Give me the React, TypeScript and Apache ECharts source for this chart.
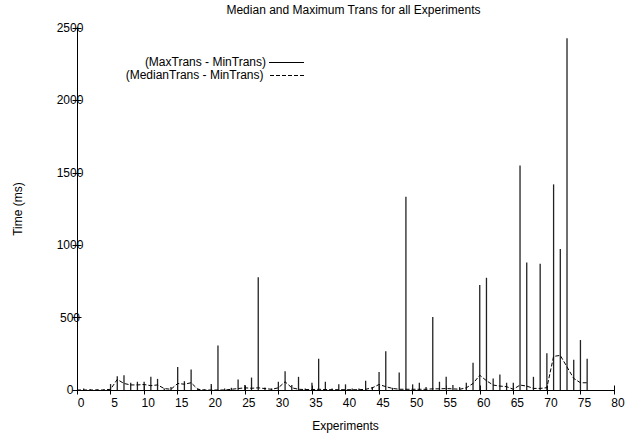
import React, { useEffect, useRef } from "react";
import * as echarts from "echarts";

// Experiment index 0..76 (position in arrays = experiment number)
const maxTrans: number[] = [
  0, 10, 5, 5, 5, 41, 95, 102, 50, 57,
  57, 91, 77, 10, 20, 159, 61, 141, 10, 5,
  41, 307, 10, 15, 73, 34, 86, 778, 18, 10,
  57, 130, 34, 91, 10, 50, 216, 57, 10, 39,
  39, 10, 10, 64, 20, 125, 268, 15, 120, 1335,
  39, 50, 20, 504, 57, 91, 34, 20, 50, 189,
  725, 775, 80, 107, 50, 50, 1550, 880, 91, 872,
  254, 1420, 973, 2430, 209, 345, 216,
];

const medianTrans: number[] = [
  0, 0, 0, 0, 0, 5, 73, 45, 35, 35,
  38, 30, 35, 10, 5, 45, 40, 50, 5, 0,
  0, 0, 0, 5, 10, 15, 12, 15, 10, 5,
  15, 57, 15, 5, 3, 3, 5, 3, 2, 2,
  2, 2, 2, 5, 15, 38, 23, 11, 5, 5,
  5, 5, 5, 8, 8, 10, 8, 5, 15, 45,
  102, 64, 34, 27, 23, 5, 34, 27, 11, 11,
  16, 232, 239, 159, 80, 50, 50,
];

const xTicks = { min: 0, max: 80, interval: 5 };
const yTicks = { min: 0, max: 2500, interval: 500 };

const titleText = "Median and Maximum Trans for all Experiments";
const xName = "Experiments";
const yName = "Time (ms)";
const seriesNames = ["(MaxTrans - MinTrans)", "(MedianTrans - MinTrans)"];

const FONT = "'Liberation Sans', Arial, Helvetica, sans-serif";

export default function App() {
  const ref = useRef<HTMLDivElement>(null);
  useEffect(() => {
    if (!ref.current) return;
    const chart = echarts.init(ref.current, undefined, { renderer: "svg" });
    const maxData = maxTrans.map((v, i) => [i, v]);
    const medData = medianTrans.map((v, i) => [i, v]);
    const axisLine = { show: true, lineStyle: { color: "#000", width: 1 } };
    const tick = { show: true, inside: true, length: 4.5, lineStyle: { color: "#000", width: 1 } };
    const plain = (v: number) => String(v);
    chart.setOption({
      animation: false,
      backgroundColor: "#fff",
      textStyle: { fontFamily: FONT, color: "#000" },
      title: {
        text: titleText,
        left: 348.5,
        top: -1,
        textAlign: "center",
        textStyle: { fontFamily: FONT, fontSize: 12, fontWeight: "normal", color: "#000" },
      },
      grid: { left: 77, right: 25, top: 28, bottom: 40, containLabel: false },
      xAxis: [
        {
          type: "value",
          ...xTicks,
          position: "bottom",
          name: xName,
          nameLocation: "middle",
          nameGap: 30,
          nameTextStyle: { fontFamily: FONT, fontSize: 12, color: "#000" },
          axisLine,
          axisTick: tick,
          splitLine: { show: false },
          axisLabel: {
            fontFamily: FONT,
            fontSize: 12,
            color: "#000",
            margin: 7,
            padding: [0, 0, 0, 8],
            formatter: plain,
          },
        },
        {
          type: "value",
          ...xTicks,
          position: "top",
          axisLine,
          axisTick: tick,
          splitLine: { show: false },
          axisLabel: { show: false },
        },
      ],
      yAxis: [
        {
          type: "value",
          ...yTicks,
          position: "left",
          name: yName,
          nameLocation: "middle",
          nameGap: 53,
          nameTextStyle: { fontFamily: FONT, fontSize: 12, color: "#000" },
          axisLine,
          axisTick: tick,
          splitLine: { show: false },
          axisLabel: {
            fontFamily: FONT,
            fontSize: 12,
            color: "#000",
            margin: 7,
            align: "center",
            formatter: plain,
          },
        },
        {
          type: "value",
          ...yTicks,
          position: "right",
          axisLine,
          axisTick: tick,
          splitLine: { show: false },
          axisLabel: { show: false },
        },
      ],
      series: [
        {
          name: seriesNames[0],
          type: "bar",
          xAxisIndex: 0,
          yAxisIndex: 0,
          data: maxData,
          barWidth: 1.3,
          itemStyle: { color: "#222" },
          z: 2,
        },
        {
          name: seriesNames[1],
          type: "line",
          xAxisIndex: 0,
          yAxisIndex: 0,
          data: medData,
          symbol: "none",
          lineStyle: { color: "#000", width: 1, type: [4, 2] },
          z: 3,
        },
      ],
      graphic: [
        {
          type: "text",
          x: 266,
          y: 62,
          style: {
            text: seriesNames[0],
            fontFamily: FONT,
            fontSize: 12,
            fill: "#000",
            align: "right",
            verticalAlign: "middle",
          },
        },
        {
          type: "line",
          shape: { x1: 269, y1: 62.5, x2: 304, y2: 62.5 },
          style: { stroke: "#000", lineWidth: 1 },
        },
        {
          type: "text",
          x: 263.5,
          y: 75,
          style: {
            text: seriesNames[1],
            fontFamily: FONT,
            fontSize: 12,
            fill: "#000",
            align: "right",
            verticalAlign: "middle",
          },
        },
        {
          type: "line",
          shape: { x1: 270, y1: 75.5, x2: 304, y2: 75.5 },
          style: { stroke: "#000", lineWidth: 1, lineDash: [4, 2] },
        },
      ],
    });
    return () => chart.dispose();
  }, []);
  return (
    <div
      ref={ref}
      style={{ position: "fixed", left: 0, top: 0, width: 639, height: 437 }}
    />
  );
}
